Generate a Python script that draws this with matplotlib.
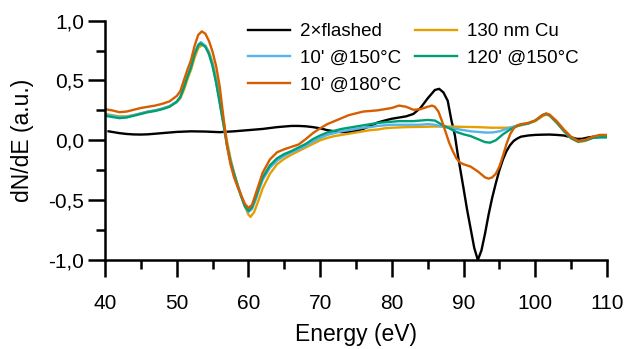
import matplotlib
matplotlib.use("Agg")
import matplotlib.pyplot as plt
from matplotlib.ticker import MultipleLocator, FuncFormatter

plt.rcParams['font.family'] = ['Liberation Sans', 'DejaVu Sans']

# ---- data (Energy in eV, dN/dE in a.u.) ----
e_flashed = [40.5, 41, 42, 43, 44, 45, 46, 47, 48, 49, 50, 52, 54, 56, 58, 60, 62, 64, 66, 67, 68, 69, 70,
             71, 72, 73, 74, 75, 76, 77, 78, 79, 80, 81, 82, 83, 84, 85, 86, 86.6, 87.2, 87.8, 88.3, 88.8,
             89.2, 89.6, 90, 90.5, 91, 91.5, 92, 92.5, 93, 93.5, 94, 94.5, 95, 95.5, 96, 96.5, 97, 97.5,
             98, 99, 100, 101, 102, 103, 104, 105, 105.8, 106.5, 107.5, 108.5, 110]
v_flashed = [0.075, 0.07, 0.06, 0.053, 0.049, 0.048, 0.05, 0.055, 0.06, 0.065, 0.07, 0.075, 0.073, 0.068,
             0.075, 0.085, 0.095, 0.11, 0.12, 0.12, 0.117, 0.11, 0.1, 0.085, 0.075, 0.068, 0.068, 0.078,
             0.095, 0.12, 0.148, 0.165, 0.18, 0.19, 0.2, 0.22, 0.27, 0.35, 0.42, 0.43, 0.40, 0.33, 0.17,
             0.04, -0.12, -0.26, -0.40, -0.58, -0.74, -0.9, -1.0, -0.92, -0.78, -0.62, -0.48, -0.36,
             -0.25, -0.16, -0.09, -0.04, -0.005, 0.015, 0.03, 0.04, 0.045, 0.047, 0.048, 0.045, 0.04,
             0.025, 0.012, 0.012, 0.025, 0.032, 0.032]

e_cu = [40, 41, 42, 43, 44, 45, 46, 47, 48, 49, 50, 50.5, 51, 51.5, 52, 52.5, 53, 53.6, 54, 54.5, 55, 55.5,
        56, 56.5, 57, 57.5, 58, 58.5, 59, 59.5, 60, 60.3, 60.8, 61.3, 62, 63, 64, 65, 66, 67, 68, 69, 70,
        71, 72, 73, 74, 75, 76, 77, 78, 79, 80, 82, 84, 86, 88, 90, 92, 94, 96, 97, 98, 99, 100, 101,
        101.5, 102, 103, 104, 105, 106, 107, 108, 109, 110]
v_cu = [0.22, 0.21, 0.2, 0.2, 0.21, 0.225, 0.24, 0.25, 0.265, 0.285, 0.32, 0.35, 0.42, 0.51, 0.59, 0.69,
        0.77, 0.80, 0.79, 0.74, 0.65, 0.52, 0.36, 0.18, 0.0, -0.15, -0.27, -0.37, -0.46, -0.55, -0.62,
        -0.64, -0.6, -0.52, -0.4, -0.28, -0.2, -0.155, -0.12, -0.09, -0.06, -0.03, 0.0, 0.02, 0.035,
        0.045, 0.055, 0.065, 0.075, 0.085, 0.09, 0.1, 0.105, 0.11, 0.112, 0.115, 0.115, 0.112, 0.11,
        0.105, 0.105, 0.11, 0.125, 0.14, 0.16, 0.2, 0.215, 0.205, 0.145, 0.075, 0.015, -0.015, -0.005,
        0.02, 0.03, 0.03]

e_150_10 = [40, 41, 42, 43, 44, 45, 46, 47, 48, 49, 50, 50.5, 51, 51.5, 52, 52.5, 53, 53.4, 54, 54.5, 55,
            55.5, 56, 56.5, 57, 57.5, 58, 58.5, 59, 59.5, 60, 60.5, 61, 61.5, 62, 63, 64, 65, 66, 67, 68,
            69, 70, 71, 72, 73, 74, 75, 76, 77, 78, 79, 80, 82, 84, 85, 86, 87, 88, 89, 90, 91, 92, 93,
            94, 95, 96, 97, 98, 99, 100, 101, 101.5, 102, 103, 104, 105, 106, 107, 108, 109, 110]
v_150_10 = [0.215, 0.205, 0.195, 0.195, 0.21, 0.225, 0.24, 0.25, 0.265, 0.285, 0.325, 0.365, 0.445, 0.535,
            0.615, 0.725, 0.80, 0.82, 0.79, 0.73, 0.63, 0.49, 0.32, 0.15, -0.03, -0.17, -0.28, -0.38,
            -0.47, -0.55, -0.6, -0.575, -0.5, -0.41, -0.33, -0.23, -0.17, -0.13, -0.1, -0.075, -0.045,
            -0.01, 0.02, 0.045, 0.06, 0.075, 0.085, 0.095, 0.105, 0.11, 0.12, 0.125, 0.13, 0.13, 0.13,
            0.135, 0.13, 0.115, 0.105, 0.095, 0.085, 0.075, 0.07, 0.065, 0.065, 0.075, 0.095, 0.115,
            0.13, 0.14, 0.165, 0.21, 0.22, 0.21, 0.15, 0.08, 0.02, -0.01, 0.0, 0.02, 0.025, 0.025]

e_150_120 = [40, 41, 42, 43, 44, 45, 46, 47, 48, 49, 50, 50.5, 51, 51.5, 52, 52.5, 53, 53.3, 54, 54.5, 55,
             55.5, 56, 56.5, 57, 57.5, 58, 58.5, 59, 59.5, 60, 60.5, 61, 61.5, 62, 63, 64, 65, 66, 67, 68,
             69, 70, 71, 72, 73, 74, 75, 76, 77, 78, 79, 80, 81, 82, 83, 84, 85, 86, 87, 88, 89, 90, 91,
             92, 93, 93.7, 94.5, 95.5, 96.5, 97.5, 98, 99, 100, 101, 101.5, 102, 103, 104, 105, 106, 107,
             108, 109, 110]
v_150_120 = [0.205, 0.195, 0.185, 0.19, 0.205, 0.22, 0.235, 0.245, 0.26, 0.28, 0.32, 0.36, 0.44, 0.53,
             0.61, 0.72, 0.79, 0.81, 0.78, 0.72, 0.62, 0.48, 0.31, 0.14, -0.04, -0.18, -0.28, -0.38,
             -0.47, -0.55, -0.59, -0.56, -0.48, -0.39, -0.31, -0.21, -0.15, -0.115, -0.09, -0.06, -0.03,
             0.01, 0.04, 0.065, 0.08, 0.095, 0.105, 0.115, 0.125, 0.135, 0.145, 0.15, 0.155, 0.16, 0.16,
             0.16, 0.165, 0.17, 0.165, 0.13, 0.1, 0.07, 0.05, 0.035, 0.01, -0.015, -0.02, 0.0, 0.05,
             0.09, 0.12, 0.13, 0.14, 0.165, 0.21, 0.22, 0.21, 0.15, 0.08, 0.02, -0.01, 0.0, 0.02, 0.025,
             0.025]

e_180_10 = [40, 41, 42, 43, 44, 45, 46, 47, 48, 49, 50, 50.5, 51, 51.5, 52, 52.5, 53, 53.5, 54, 54.5, 55,
            55.5, 56, 56.5, 57, 57.5, 58, 58.5, 59, 59.5, 60, 60.5, 61, 61.5, 62, 63, 64, 65, 66, 67, 68,
            69, 70, 71, 72, 73, 74, 75, 76, 77, 78, 79, 80, 81, 82, 83, 84, 85, 85.6, 86, 86.5, 87, 87.5,
            88, 88.5, 89, 89.5, 90, 91, 92, 93, 93.5, 94, 94.5, 95, 95.5, 96, 96.5, 97, 97.5, 98, 99, 100,
            101, 101.5, 102, 103, 104, 105, 106, 107, 108, 109, 110]
v_180_10 = [0.26, 0.25, 0.235, 0.24, 0.255, 0.27, 0.28, 0.29, 0.305, 0.325, 0.37, 0.41, 0.5, 0.59, 0.67,
            0.79, 0.88, 0.91, 0.89, 0.83, 0.74, 0.62, 0.45, 0.2, -0.04, -0.2, -0.31, -0.39, -0.46, -0.53,
            -0.565, -0.54, -0.45, -0.36, -0.27, -0.16, -0.1, -0.075, -0.055, -0.035, 0.01, 0.06, 0.1,
            0.135, 0.16, 0.185, 0.21, 0.225, 0.24, 0.245, 0.25, 0.26, 0.27, 0.29, 0.28, 0.255, 0.26,
            0.28, 0.29, 0.28, 0.24, 0.16, 0.07, -0.02, -0.09, -0.15, -0.185, -0.2, -0.22, -0.26, -0.31,
            -0.32, -0.31, -0.28, -0.22, -0.13, -0.03, 0.05, 0.1, 0.125, 0.135, 0.145, 0.165, 0.21, 0.225,
            0.215, 0.16, 0.09, 0.03, -0.005, 0.005, 0.03, 0.045, 0.045]

labels = ["2\u00d7flashed", "10' @150\u00b0C", "10' @180\u00b0C", "130 nm Cu", "120' @150\u00b0C"]
x_ticks = [40, 50, 60, 70, 80, 90, 100, 110]
y_ticks = [-1.0, -0.5, 0.0, 0.5, 1.0]

# ---- figure ----
fig = plt.figure(figsize=(6.29, 3.49), dpi=100)
ax = fig.add_axes([0.1669, 0.255, 0.798, 0.686])

lw = 1.7
h_black, = ax.plot(e_flashed, v_flashed, color='black', lw=lw)
h_cu, = ax.plot(e_cu, v_cu, color='#E69F00', lw=lw)
h_b, = ax.plot(e_150_10, v_150_10, color='#56B4E9', lw=lw)
h_g, = ax.plot(e_150_120, v_150_120, color='#009E73', lw=lw)
h_o, = ax.plot(e_180_10, v_180_10, color='#D55E00', lw=lw)

ax.set_xlim(40, 110)
ax.set_ylim(-1.0, 1.0)
ax.set_xticks(x_ticks)
ax.set_yticks(y_ticks)
ax.xaxis.set_minor_locator(MultipleLocator(5))
ax.yaxis.set_minor_locator(MultipleLocator(0.25))
ax.yaxis.set_major_formatter(FuncFormatter(lambda v, p: f"{v:.1f}".replace('.', ',')))

for s in ['top', 'right']:
    ax.spines[s].set_visible(False)
for s in ['left', 'bottom']:
    ax.spines[s].set_linewidth(1.8)

ax.tick_params(axis='both', which='major', direction='out', length=12.5, width=1.8, labelsize=15)
ax.tick_params(axis='both', which='minor', direction='out', length=6.5, width=1.8)
ax.tick_params(axis='x', which='major', pad=12)
ax.tick_params(axis='y', which='major', pad=2.5)

ax.set_xlabel("Energy (eV)", fontsize=16.5, labelpad=7)
ax.set_ylabel("dN/dE (a.u.)", fontsize=16.5)
ax.yaxis.set_label_coords(-0.141, 0.5)

leg = ax.legend([h_black, h_b, h_o, h_cu, h_g], labels, ncol=2, frameon=False, fontsize=13.5,
                loc='upper left', bbox_to_anchor=(0.284, 0.99), handlelength=2.25,
                handletextpad=0.55, columnspacing=0.72, labelspacing=0.52, borderaxespad=0,
                borderpad=0)

fig.savefig("out.png", dpi=100)
